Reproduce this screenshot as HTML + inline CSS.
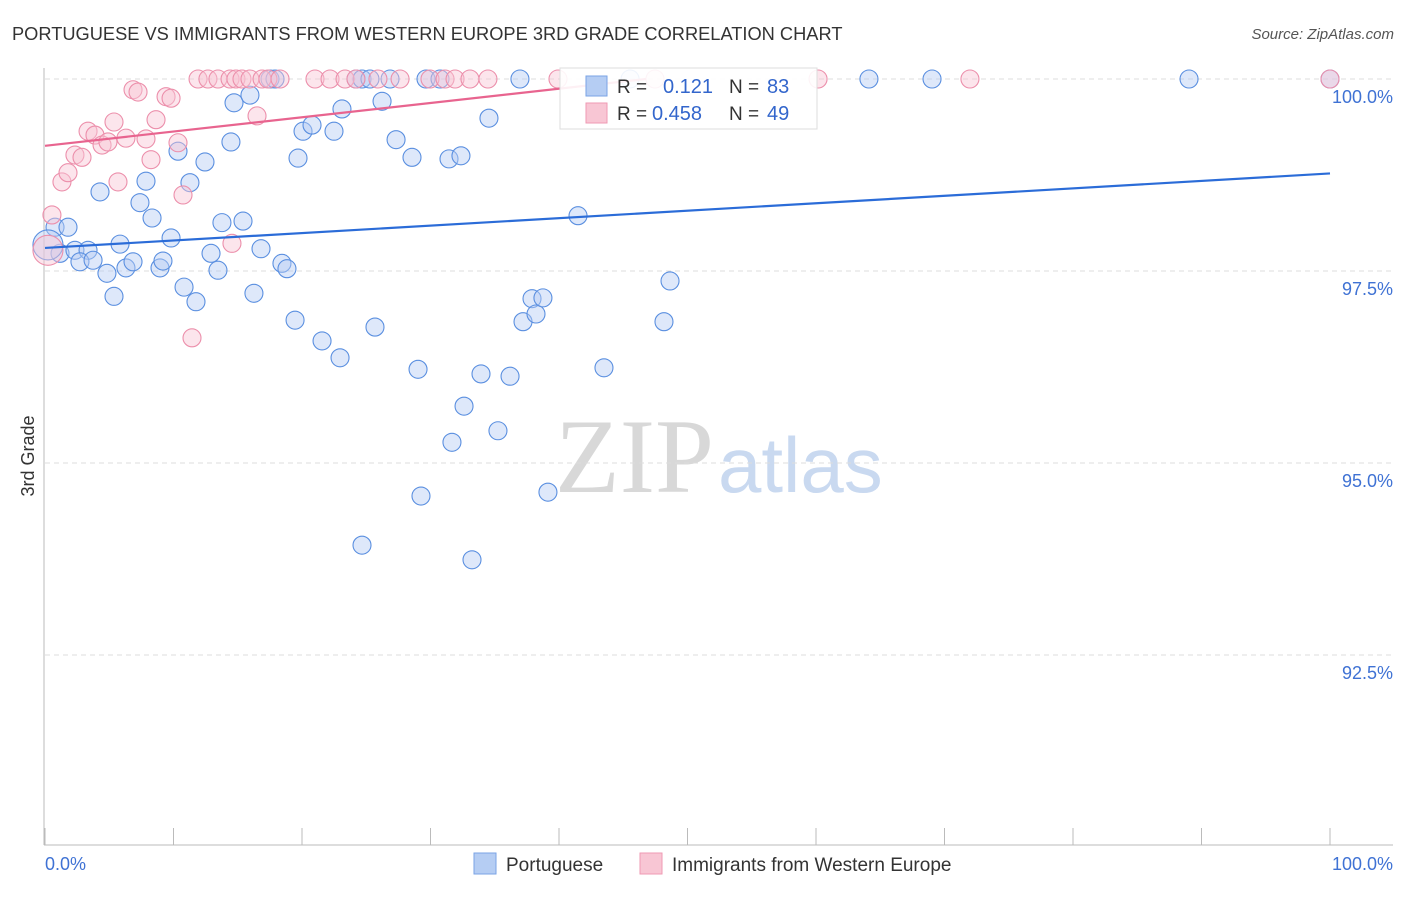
<!DOCTYPE html>
<html><head><meta charset="utf-8"><style>
body{margin:0;background:#fff;font-family:"Liberation Sans",sans-serif}
svg text{font-family:"Liberation Sans",sans-serif}
</style></head><body>
<svg id="chart" width="1406" height="892" xmlns="http://www.w3.org/2000/svg">
<text x="12" y="40" font-size="18.25" fill="#333">PORTUGUESE VS IMMIGRANTS FROM WESTERN EUROPE 3RD GRADE CORRELATION CHART</text>
<text x="1394" y="39" font-size="15" fill="#555" text-anchor="end" font-style="italic">Source: ZipAtlas.com</text>
<g>
<text x="555" y="492" font-size="106" fill="#d8d8d8" font-family="Liberation Serif" style="font-family:'Liberation Serif',serif">ZIP</text>
<text x="718" y="492" font-size="78" fill="#c9d9f0">atlas</text>
</g>
<g id="grid"></g>
<g id="axes"></g>
<g id="marks"></g>
<text transform="translate(34,456) rotate(-90)" font-size="18" fill="#333" text-anchor="middle">3rd Grade</text>
<g>
<rect x="560" y="68" width="257" height="61" fill="#fff" fill-opacity="0.9" stroke="#ddd"/>
<rect x="586" y="76" width="21" height="20" fill="#b5cdf3" stroke="#7aa3e6"/>
<text x="617" y="93" font-size="19" fill="#333">R = </text><text x="663" y="93" font-size="20" fill="#3366cc">0.121</text>
<text x="729" y="93" font-size="19" fill="#333">N = </text><text x="767" y="93" font-size="20" fill="#3366cc">83</text>
<rect x="586" y="103" width="21" height="20" fill="#f8c6d4" stroke="#ef9ab3"/>
<text x="617" y="120" font-size="19" fill="#333">R = </text><text x="652" y="120" font-size="20" fill="#3366cc">0.458</text>
<text x="729" y="120" font-size="19" fill="#333">N = </text><text x="767" y="120" font-size="20" fill="#3366cc">49</text>
</g>
<g>
<rect x="474" y="853" width="22" height="21" fill="#b5cdf3" stroke="#7aa3e6"/>
<text x="506" y="871" font-size="19" fill="#333">Portuguese</text>
<rect x="640" y="853" width="22" height="21" fill="#f8c6d4" stroke="#ef9ab3"/>
<text x="672" y="871" font-size="19" fill="#333">Immigrants from Western Europe</text>
</g>
</svg>
<script>
const yTicks=[100,97.5,95,92.5];
const yTickLabels=["100.0%","97.5%","95.0%","92.5%"];
const xTickLabels=["0.0%","100.0%"];
const blueX=[0.78,1.79,1.17,2.33,3.35,2.72,3.74,4.28,4.82,5.37,5.84,6.30,6.85,7.39,7.86,8.33,8.95,9.18,9.81,10.35,10.82,11.28,11.75,12.45,12.92,13.46,13.77,14.47,14.71,15.41,15.95,16.26,16.81,17.51,17.90,18.44,18.83,19.46,19.69,20.08,20.78,21.56,22.49,22.96,23.11,24.20,24.67,24.67,25.29,25.68,26.23,26.85,27.32,28.56,29.03,29.26,29.65,30.74,31.44,31.67,32.37,32.61,33.93,34.55,35.25,36.19,36.96,37.20,37.90,38.21,38.75,39.14,33.23,41.48,43.50,45.53,48.17,48.64,64.12,69.03,89.03,100,0.23];
const blueY=[98.07,98.07,97.73,97.77,97.77,97.62,97.64,98.53,97.47,97.17,97.85,97.54,97.62,98.39,98.67,98.19,97.54,97.63,97.93,99.06,97.29,98.65,97.10,98.92,97.73,97.51,98.13,99.18,99.69,98.15,99.79,97.21,97.79,100,100,97.60,97.53,96.86,98.97,99.32,99.40,96.59,99.32,96.37,99.61,100,100,93.93,100,96.77,99.71,100,99.21,98.98,96.22,94.57,100,100,98.96,95.27,99.00,95.74,96.16,99.49,95.42,96.13,100,96.84,97.14,96.94,97.15,94.62,93.74,98.22,96.24,100,96.84,97.37,100,100,100,100,97.84];
const pinkX=[0.54,0.23,1.32,1.79,2.33,2.88,3.35,3.89,4.44,4.90,5.37,5.68,6.30,6.85,7.24,7.86,8.25,8.64,9.42,9.81,10.35,10.74,11.44,14.55,16.50,11.91,12.68,13.46,14.40,14.86,15.33,15.95,16.89,17.35,18.29,21.01,22.18,23.35,24.20,25.91,27.63,29.96,31.13,31.91,33.07,34.47,39.92,47.47,60.16,71.98,100];
const pinkY=[98.23,97.77,98.66,98.78,99.01,98.98,99.32,99.27,99.14,99.18,99.44,98.66,99.23,99.86,99.83,99.22,98.95,99.47,99.77,99.75,99.17,98.49,96.63,97.86,99.52,100,100,100,100,100,100,100,100,100,100,100,100,100,100,100,100,100,100,100,100,100,100,100,100,100,100];
const blueBig=[82];const pinkBig=[1];
const blueTrend=[97.80,98.77];
const pinkTrend=[99.13,100.99];
const NS="http://www.w3.org/2000/svg";
const X0=45,X1=1330,YT=79,YB=845;
const xs=v=>X0+(X1-X0)*v/100;
const ys=v=>YT+(100-v)*(271-79)/2.5;
function mk(tag,attrs,parent){const e=document.createElementNS(NS,tag);for(const k in attrs)e.setAttribute(k,attrs[k]);parent.appendChild(e);return e;}
const grid=document.getElementById('grid'),axes=document.getElementById('axes'),marks=document.getElementById('marks');
yTicks.forEach((t,i)=>{
 const l=mk('line',{x1:45,x2:1393,y1:ys(t),y2:ys(t),stroke:'#ddd','stroke-dasharray':'5,4'},grid);
 
 
 const tx=mk('text',{x:1393,y:ys(t)+24,'font-size':18,fill:'#3f72d4','text-anchor':'end'},grid);
 tx.textContent=yTickLabels[i];
 
 
});
const ax=mk('line',{x1:44,x2:44,y1:68,y2:845,stroke:'#bbb'},axes);


const bx=mk('line',{x1:44,x2:1393,y1:845,y2:845,stroke:'#bbb'},axes);


for(let i=0;i<=10;i++){const t=mk('line',{x1:xs(i*10),x2:xs(i*10),y1:828,y2:845,stroke:'#bbb'},axes);
 
 }
[[0,'start',45],[100,'end',1393]].forEach((a,i)=>{const t=mk('text',{x:a[2],y:870,'font-size':18,fill:'#3f72d4','text-anchor':a[1]},axes);t.textContent=xTickLabels[i];
 
 });
function pts(X,Y,big,fill,stroke,name){X.forEach((x,i)=>{const c=mk('circle',{cx:xs(x),cy:ys(Y[i]),r:big.includes(i)?15:9,fill:fill,'fill-opacity':0.45,stroke:stroke,'stroke-width':1.1},marks);
 
 });}
pts(blueX,blueY,blueBig,'#b5cdf3','#5a8fe0','portuguese-point');
pts(pinkX,pinkY,pinkBig,'#f8c6d4','#ec8fab','immigrants-point');
const bl=mk('line',{x1:xs(0),y1:ys(blueTrend[0]),x2:xs(100),y2:ys(blueTrend[1]),stroke:'#2b6cd8','stroke-width':2.2},marks);


const pxEnd=(100-pinkTrend[0])/(pinkTrend[1]-pinkTrend[0])*100;
const pl=mk('line',{x1:xs(0),y1:ys(pinkTrend[0]),x2:xs(pxEnd),y2:ys(100),stroke:'#e8648f','stroke-width':2.2},marks);


</script>
</body></html>
